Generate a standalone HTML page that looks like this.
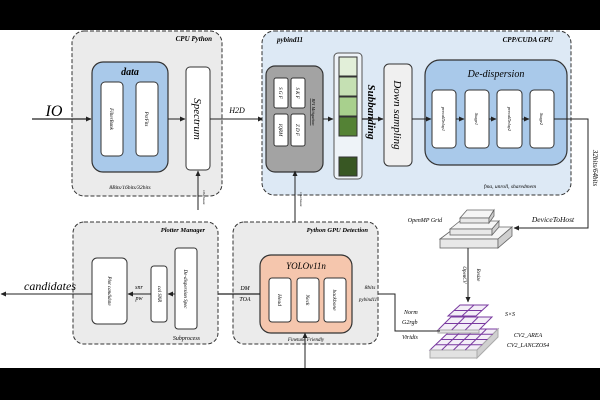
<!DOCTYPE html>
<html><head><meta charset="utf-8"><style>
html,body{margin:0;padding:0;background:#fff;}
svg{display:block;font-family:"Liberation Serif",serif;font-style:italic;}
</style></head><body>
<svg width="600" height="400" viewBox="0 0 600 400" xmlns="http://www.w3.org/2000/svg">
<defs>
<marker id="a" markerWidth="6" markerHeight="6" refX="5" refY="3" orient="auto" markerUnits="userSpaceOnUse"><path d="M0,0.5 L5.5,3 L0,5.5z" fill="#222"/></marker>
</defs>
<rect x="0" y="0" width="600" height="30" fill="#000"/>
<rect x="0" y="368" width="600" height="32" fill="#000"/>

<!-- CPU Python -->
<rect x="72" y="31" width="150" height="165" rx="12" fill="#ebebeb" stroke="#333" stroke-dasharray="4,2"/>
<text x="212" y="41" font-size="7" font-weight="bold" text-anchor="end">CPU Python</text>
<rect x="92" y="62" width="76" height="110" rx="11" fill="#a9c9ea" stroke="#333" stroke-width="1.2"/>
<text x="130" y="75" font-size="10" font-weight="bold" text-anchor="middle">data</text>
<rect x="101" y="82" width="22" height="74" rx="4" fill="#fff" stroke="#333"/>
<rect x="136" y="82" width="22" height="74" rx="4" fill="#fff" stroke="#333"/>
<text transform="translate(110,119) rotate(90)" font-size="5" text-anchor="middle">FilterBank</text>
<text transform="translate(145,119) rotate(90)" font-size="5" text-anchor="middle">PsrFits</text>
<rect x="186" y="67" width="24" height="103" rx="4" fill="#fff" stroke="#333"/>
<text transform="translate(194,119) rotate(90)" font-size="11" text-anchor="middle">Spectrum</text>
<text x="54" y="116" font-size="16" text-anchor="middle">IO</text>
<line x1="32" y1="119" x2="91" y2="119" stroke="#222" stroke-width="1.2" marker-end="url(#a)"/>
<line x1="168" y1="119" x2="185" y2="119" stroke="#222" marker-end="url(#a)"/>
<line x1="210" y1="119" x2="263" y2="119" stroke="#222" marker-end="url(#a)"/>
<text x="237" y="113" font-size="8" text-anchor="middle">H2D</text>
<text x="130" y="189" font-size="5.5" text-anchor="middle">8Bits/16bits/32bits</text>
<line x1="198" y1="210" x2="198" y2="171" stroke="#222" marker-end="url(#a)"/>
<text transform="translate(203,190) rotate(90)" font-size="3.5">Checksum</text>

<!-- GPU -->
<rect x="262" y="31" width="309" height="164" rx="12" fill="#dde9f5" stroke="#333" stroke-dasharray="4,2"/>
<text x="277" y="42" font-size="7" font-weight="bold">pybind11</text>
<text x="553" y="42" font-size="7" font-weight="bold" text-anchor="end">CPP/CUDA   GPU</text>
<rect x="266" y="66" width="57" height="106" rx="9" fill="#a3a3a3" stroke="#333" stroke-width="1.2"/>
<rect x="274" y="78" width="14" height="30" rx="2" fill="#fff" stroke="#333"/>
<rect x="291" y="78" width="14" height="30" rx="2" fill="#fff" stroke="#333"/>
<rect x="274" y="114" width="14" height="32" rx="2" fill="#fff" stroke="#333"/>
<rect x="291" y="114" width="14" height="32" rx="2" fill="#fff" stroke="#333"/>
<text transform="translate(279,93) rotate(90)" font-size="5" text-anchor="middle">S G F</text>
<text transform="translate(296,93) rotate(90)" font-size="5" text-anchor="middle">S K F</text>
<text transform="translate(279,130) rotate(90)" font-size="5" text-anchor="middle">IQRM</text>
<text transform="translate(296,130) rotate(90)" font-size="5" text-anchor="middle">Z D F</text>
<text transform="translate(312,112) rotate(90)" font-size="4.5" text-anchor="middle" text-decoration="underline">RFI Mitigation</text>
<rect x="334" y="53" width="28" height="126" rx="4" fill="#eef3f8" stroke="#555"/>
<rect x="339" y="57" width="18" height="19" fill="#e2efd9" stroke="#333"/>
<rect x="339" y="77" width="18" height="19" fill="#c5e0b3" stroke="#333"/>
<rect x="339" y="97" width="18" height="19" fill="#a8d08d" stroke="#333"/>
<rect x="339" y="117" width="18" height="19" fill="#548235" stroke="#333"/>
<rect x="339" y="157" width="18" height="19" fill="#385723" stroke="#333"/>
<text transform="translate(368,112) rotate(90)" font-size="11" font-weight="bold" text-anchor="middle">Subbanding</text>
<rect x="384" y="64" width="28" height="102" rx="5" fill="#f0f0f0" stroke="#333"/>
<text transform="translate(394,115) rotate(90)" font-size="11" text-anchor="middle">Down sampling</text>
<rect x="425" y="60" width="142" height="105" rx="15" fill="#a9c9ea" stroke="#333" stroke-width="1.2"/>
<text x="496" y="77" font-size="10" text-anchor="middle">De-dispersion</text>
<rect x="432" y="90" width="24" height="58" rx="4" fill="#fff" stroke="#333"/>
<rect x="465" y="90" width="24" height="58" rx="4" fill="#fff" stroke="#333"/>
<rect x="497" y="90" width="25" height="58" rx="4" fill="#fff" stroke="#333"/>
<rect x="530" y="90" width="24" height="58" rx="4" fill="#fff" stroke="#333"/>
<text transform="translate(442,119) rotate(90)" font-size="4.5" text-anchor="middle">precalDelay1</text>
<text transform="translate(475,119) rotate(90)" font-size="4.5" text-anchor="middle">Stage1</text>
<text transform="translate(508,119) rotate(90)" font-size="4.5" text-anchor="middle">precalDelay2</text>
<text transform="translate(540,119) rotate(90)" font-size="4.5" text-anchor="middle">Stage2</text>
<line x1="323" y1="119" x2="333" y2="119" stroke="#222" marker-end="url(#a)"/>
<line x1="362" y1="119" x2="383" y2="119" stroke="#222" stroke-width="1.2" marker-end="url(#a)"/>
<line x1="412" y1="119" x2="431" y2="119" stroke="#222" marker-end="url(#a)"/>
<line x1="456" y1="119" x2="464" y2="119" stroke="#222" marker-end="url(#a)"/>
<line x1="489" y1="119" x2="496" y2="119" stroke="#222" marker-end="url(#a)"/>
<line x1="522" y1="119" x2="529" y2="119" stroke="#222" marker-end="url(#a)"/>
<polyline points="554,119 588,119 588,228 514,228" fill="none" stroke="#222" marker-end="url(#a)"/>
<text transform="translate(593,168) rotate(90)" font-size="7" text-anchor="middle">32bits/64bits</text>
<text x="510" y="188" font-size="5.5" text-anchor="middle">fma, unroll, sharedmem</text>
<line x1="295" y1="222" x2="295" y2="171" stroke="#222" marker-end="url(#a)"/>
<text transform="translate(300,192) rotate(90)" font-size="3.5">Checksum</text>

<!-- plates -->
<g stroke="#666" stroke-width="0.8">
<polygon points="440,239 456,227 512,227 498,239" fill="#f5f5f5"/>
<rect x="440" y="239" width="58" height="9" fill="#e8e8e8"/>
<polygon points="498,239 512,227 512,236 498,248" fill="#cfcfcf"/>
<polygon points="450,229 460,221 499,221 492,229" fill="#f5f5f5"/>
<rect x="450" y="229" width="42" height="6" fill="#e8e8e8"/>
<polygon points="492,229 499,221 499,227 492,235" fill="#cfcfcf"/>
<polygon points="460,218 467,210 494,210 489,218" fill="#f5f5f5"/>
<rect x="460" y="218" width="29" height="5" fill="#e8e8e8"/>
<polygon points="489,218 494,210 494,216 489,223" fill="#cfcfcf"/>
</g>
<text x="425" y="222" font-size="6" text-anchor="middle">OpenMP Grid</text>
<text x="553" y="222" font-size="7.5" text-anchor="middle">DeviceToHost</text>
<line x1="468" y1="248" x2="468" y2="302" stroke="#222" marker-end="url(#a)"/>
<text transform="translate(463,275) rotate(90)" font-size="5" text-anchor="middle">OpenCV</text>
<text transform="translate(477,275) rotate(90)" font-size="5" text-anchor="middle">Resize</text>

<!-- grids -->
<g stroke="#7a3aa0" stroke-width="1">
<polygon points="430,350 452,329 498,329 477,350" fill="#f3eef7"/>
<rect x="430" y="350" width="47" height="8" fill="#e2e2e2" stroke="#aaa"/>
<polygon points="477,350 498,329 498,337 477,358" fill="#d0d0d0" stroke="#aaa"/>
<line x1="435.5" y1="344.75" x2="482.3" y2="344.75"/>
<line x1="441" y1="339.5" x2="487.5" y2="339.5"/>
<line x1="446.5" y1="334.25" x2="492.8" y2="334.25"/>
<line x1="441.75" y1="350" x2="463.5" y2="329"/><line x1="453.5" y1="350" x2="475" y2="329"/><line x1="465.25" y1="350" x2="486.5" y2="329"/>
<polygon points="438,330 451,317 492,317 479,330" fill="#f3eef7"/>
<rect x="438" y="330" width="41" height="3" fill="#e2e2e2" stroke="#aaa"/>
<line x1="444.5" y1="323.5" x2="485.5" y2="323.5"/>
<line x1="451.7" y1="330" x2="464.7" y2="317"/><line x1="465.3" y1="330" x2="478.3" y2="317"/>
<polygon points="448,316 460,305 488,305 476,316" fill="#f3eef7"/>
<line x1="454" y1="310.5" x2="482" y2="310.5"/>
<line x1="462" y1="316" x2="474" y2="305"/>
</g>
<text x="505" y="316" font-size="6">S×S</text>
<text x="528" y="337" font-size="6" text-anchor="middle">CV2_AREA</text>
<text x="528" y="347" font-size="6" text-anchor="middle">CV2_LANCZOS4</text>
<text x="404" y="314" font-size="6">Norm</text>
<text x="402" y="324" font-size="6">G2rgb</text>
<text x="402" y="339" font-size="6">Viridis</text>
<polyline points="440,331 395,331 395,294 353,294" fill="none" stroke="#222" marker-end="url(#a)"/>

<!-- Python GPU detection -->
<rect x="233" y="222" width="145" height="122" rx="11" fill="#ebebeb" stroke="#333" stroke-dasharray="4,2"/>
<text x="368" y="232" font-size="6.5" font-weight="bold" text-anchor="end">Python   GPU Detection</text>
<rect x="260" y="255" width="92" height="78" rx="11" fill="#f5c6ad" stroke="#333" stroke-width="1.2"/>
<text x="306" y="269" font-size="9" text-anchor="middle">YOLOv11n</text>
<rect x="269" y="278" width="22" height="44" rx="3" fill="#fff" stroke="#333"/>
<rect x="297" y="278" width="22" height="44" rx="3" fill="#fff" stroke="#333"/>
<rect x="324" y="278" width="22" height="44" rx="3" fill="#fff" stroke="#333"/>
<text transform="translate(278,300) rotate(90)" font-size="5.5" text-anchor="middle">Head</text>
<text transform="translate(306,300) rotate(90)" font-size="5.5" text-anchor="middle">Neck</text>
<text transform="translate(333,300) rotate(90)" font-size="5.5" text-anchor="middle">backbone</text>
<text x="306" y="341" font-size="5" text-anchor="middle">Finetune   Friendly</text>
<line x1="305" y1="368" x2="305" y2="333" stroke="#222" marker-end="url(#a)"/>
<text x="370" y="289" font-size="5.5" text-anchor="middle">8bits</text>
<text x="368" y="301" font-size="5" text-anchor="middle">pybind11</text>
<text x="245" y="290" font-size="6" text-anchor="middle">DM</text>
<text x="245" y="301" font-size="6" text-anchor="middle">TOA</text>
<line x1="260" y1="294" x2="198" y2="294" stroke="#222" stroke-width="1.2" marker-end="url(#a)"/>

<!-- Plotter -->
<rect x="73" y="222" width="145" height="122" rx="11" fill="#ebebeb" stroke="#333" stroke-dasharray="4,2"/>
<text x="205" y="232" font-size="6.5" font-weight="bold" text-anchor="end">Plotter Manager</text>
<text x="200" y="340" font-size="6" text-anchor="end">Subprocess</text>
<rect x="92" y="258" width="35" height="66" rx="5" fill="#fff" stroke="#333"/>
<text transform="translate(108,291) rotate(90)" font-size="5" text-anchor="middle">Plot candidate</text>
<rect x="151" y="266" width="16" height="56" rx="3" fill="#fff" stroke="#333"/>
<text transform="translate(158,294) rotate(90)" font-size="5" text-anchor="middle">cal SNR</text>
<rect x="175" y="248" width="22" height="81" rx="3" fill="#fff" stroke="#333"/>
<text transform="translate(184,289) rotate(90)" font-size="5" text-anchor="middle">De-dispersion Spec</text>
<line x1="175" y1="294" x2="168" y2="294" stroke="#222" marker-end="url(#a)"/>
<line x1="151" y1="294" x2="128" y2="294" stroke="#222" marker-end="url(#a)"/>
<text x="139" y="289" font-size="6" text-anchor="middle">snr</text>
<text x="139" y="300" font-size="6" text-anchor="middle">pw</text>
<line x1="92" y1="294" x2="1" y2="294" stroke="#222" marker-end="url(#a)"/>
<text x="50" y="290" font-size="12" text-anchor="middle">candidates</text>
</svg>
</body></html>
